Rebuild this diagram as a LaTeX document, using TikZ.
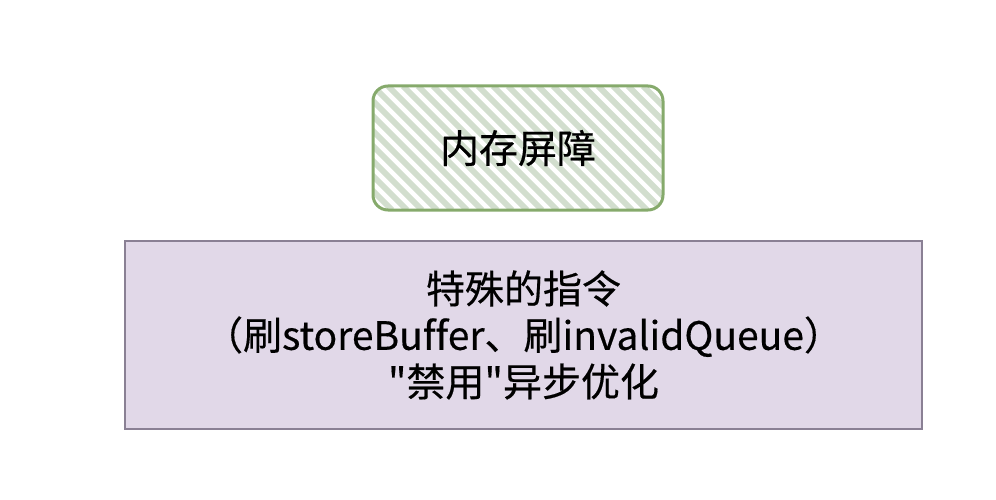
\documentclass[tikz,border=0pt]{standalone}
\usepackage{fontspec}
\setmainfont{Noto Sans CJK SC}[Ligatures={TeXOff,CommonOff},FakeBold=0.4]
\usepackage{xcolor}
\usepackage{tikz}
\usetikzlibrary{calc}

\definecolor{barrierline}{HTML}{86AA6C}
\definecolor{barrierhatch}{HTML}{D2DECE}
\definecolor{instrfill}{HTML}{E1D8E8}
\definecolor{instrline}{HTML}{8A8094}

\tikzset{
  barrier/.style={draw=barrierline,line width=3pt,rounded corners=15pt,
    minimum width=290pt,minimum height=124pt,inner sep=0pt},
  instr/.style={draw=instrline,fill=instrfill,line width=1.8pt,
    minimum width=797pt,minimum height=188pt,inner sep=0pt,align=center},
  bigtext/.style={font=\fontsize{39}{46.5}\selectfont}
}

\begin{document}
\begin{tikzpicture}[x=1pt,y=-1pt]

\useasboundingbox (0,0) rectangle (996,500);

\begin{scope}																	% Schraffur Barriere
\clip[rounded corners=15pt] (374,87) rectangle (662,209);
\foreach \s in {-120,-105,...,300}
  \draw[barrierhatch,line width=6pt] (373+\s,86) -- (373+\s+124,210);
\end{scope}
\node[barrier,bigtext] (barrier) at (518,148) {内存屏障};					% Barriere

\node[instr,bigtext] (instr) at (523.5,335) {特殊的指令\\（刷storeBuffer、刷invalidQueue）\\"禁用"异步优化};	% Anweisungen

\end{tikzpicture}
\end{document}
